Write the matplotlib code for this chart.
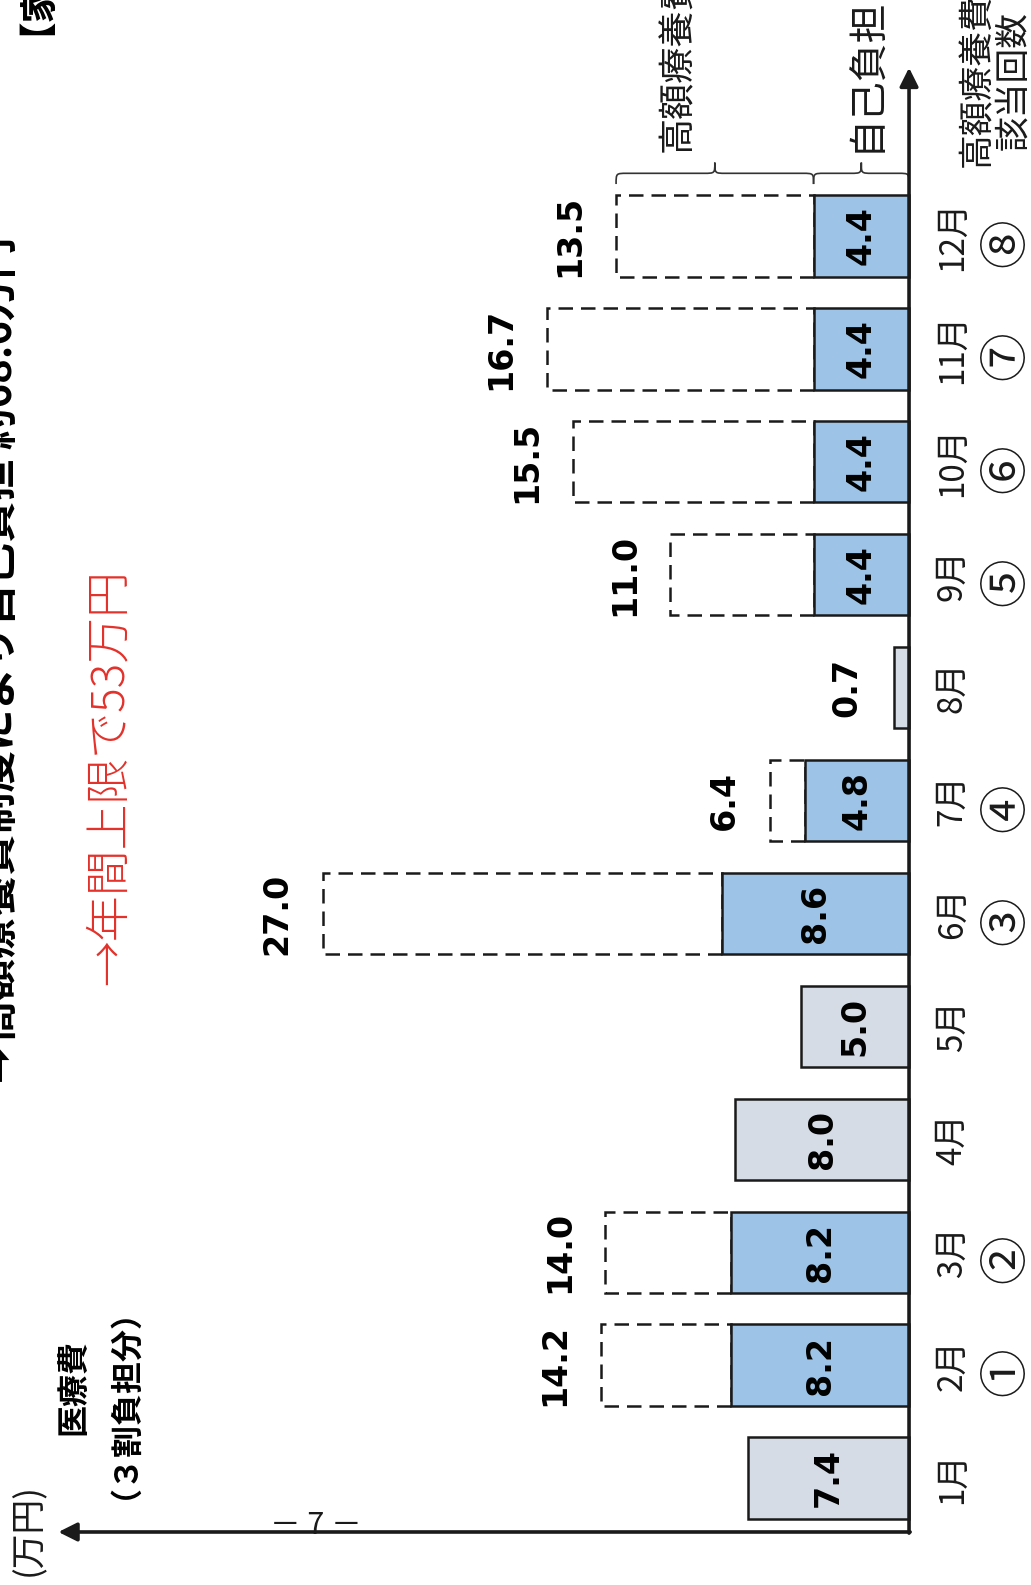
import matplotlib
matplotlib.use("Agg")
import matplotlib.pyplot as plt
from matplotlib.path import Path
from matplotlib.patches import PathPatch

plt.rcParams['font.family'] = ['Noto Sans CJK JP', 'DejaVu Sans']

# ---- data (万円) ----
months = list(range(1, 13))
month_labels = [f"{m}月" for m in months]
# self-pay part for months where the high-cost benefit applied
self_pay = [None, 8.2, 8.2, None, None, 8.6, 4.8, None, 4.4, 4.4, 4.4, 4.4]
# total medical cost (3-割 share) for each month
totals = [7.4, 14.2, 14.0, 8.0, 5.0, 27.0, 6.4, 0.7, 11.0, 15.5, 16.7, 13.5]
benefit_count = ["", "①", "②", "", "", "③", "④", "", "⑤", "⑥", "⑦", "⑧"]

W, H = 1031, 1585
fig = plt.figure(figsize=(W / 100, H / 100), dpi=100)
ax = fig.add_axes([0, 0, 1, 1])
ax.axis('off')
ax.set_xlim(41.89, -5.62)   # values grow to the left
ax.set_ylim(0.052, 14.09)


def px(x, y):
    return x / W, 1 - y / H


BLUE = '#9dc3e6'
GRAY = '#d6dce5'
INK = '#1a1a1a'
BAR_H = 0.72
LW = 1.8
dash = (0, (5.8, 3.2))

for m, sp, tot in zip(months, self_pay, totals):
    if sp is None:
        ax.barh(m, tot, height=BAR_H, color=GRAY, edgecolor=INK, linewidth=LW, zorder=2)
        if tot >= 2:
            ax.text(tot / 2, m, f"{tot:.1f}", rotation=90, ha='center', va='center',
                    fontsize=24, fontweight='bold', family='DejaVu Sans', zorder=4)
        else:
            ax.annotate(f"{tot:.1f}", (tot, m), xytext=(-34, 0), textcoords='offset points',
                        rotation=90, ha='center', va='center', fontsize=24,
                        fontweight='bold', family='DejaVu Sans')
    else:
        ax.barh(m, tot - sp, left=sp, height=BAR_H, fill=False, edgecolor=INK,
                linewidth=LW, linestyle=dash, zorder=2)
        ax.barh(m, sp, height=BAR_H, color=BLUE, edgecolor=INK, linewidth=LW, zorder=3)
        ax.text(sp / 2, m, f"{sp:.1f}", rotation=90, ha='center', va='center',
                fontsize=24, fontweight='bold', family='DejaVu Sans', zorder=4)
        ax.annotate(f"{tot:.1f}", (tot, m), xytext=(-33, 0), textcoords='offset points',
                    rotation=90, ha='center', va='center', fontsize=24,
                    fontweight='bold', family='DejaVu Sans')

# month labels and benefit counts beside the axis
for m, lab, cnt in zip(months, month_labels, benefit_count):
    ax.annotate(lab, (0, m), xytext=(31, 0), textcoords='offset points',
                rotation=90, ha='center', va='center', fontsize=24, color=INK)
    if cnt:
        ax.annotate(cnt, (0, m), xytext=(70, -5), textcoords='offset points',
                    rotation=90, ha='center', va='center', fontsize=35, color=INK)

# axes with arrows
y_base = 0.5215
ax.annotate('', xy=(0, 13.49), xytext=(0, y_base - 0.01),
            arrowprops=dict(arrowstyle='-|>', lw=2.6, color=INK,
                            mutation_scale=28, shrinkA=0, shrinkB=0), zorder=5)
ax.annotate('', xy=(39.2, y_base), xytext=(-0.05, y_base),
            arrowprops=dict(arrowstyle='-|>', lw=2.6, color=INK,
                            mutation_scale=28, shrinkA=0, shrinkB=0), zorder=5)


# curly braces above the December bar
def brace(x0, x1, yb, depth, r):
    xc = (x0 + x1) / 2
    ym = yb + depth * 0.5
    yt = yb + depth
    verts = [(x0, yb), (x0, ym), (x0, ym), (x0 + r, ym),
             (xc - r, ym), (xc, ym), (xc, ym), (xc, yt),
             (xc, ym), (xc, ym), (xc + r, ym),
             (x1 - r, ym), (x1, ym), (x1, ym), (x1, yb)]
    codes = [Path.MOVETO, Path.CURVE4, Path.CURVE4, Path.CURVE4,
             Path.LINETO, Path.CURVE4, Path.CURVE4, Path.CURVE4,
             Path.CURVE4, Path.CURVE4, Path.CURVE4,
             Path.LINETO, Path.CURVE4, Path.CURVE4, Path.CURVE4]
    ax.add_patch(PathPatch(Path(verts, codes), fill=False, lw=1.2, color='#333333'))


dec_self, dec_total = self_pay[-1], totals[-1]
brace(0.0, dec_self, 12.46, 0.19, 0.5)
brace(dec_self, dec_total, 12.46, 0.19, 0.5)

# annotations around the chart
fig.text(*px(678, 152), "高額療養費", rotation=90, ha='center', va='bottom',
         fontsize=26, color=INK)
fig.text(*px(866, 152), "自己負担", rotation=90, ha='center', va='bottom',
         fontsize=28, color=INK)
fig.text(*px(996, 167), "高額療養費\n該当回数", rotation=90, ha='center', va='bottom',
         multialignment='center', linespacing=1.05, fontsize=25, color=INK)
fig.text(*px(110, 985), "→年間上限で53万円", rotation=90, ha='center', va='bottom',
         fontsize=33, fontweight='light', color='#e3312a')
fig.text(*px(91, 1387), "医療費\n（３割負担分）", rotation=90, ha='center', va='center',
         multialignment='center', linespacing=1.15, fontsize=23, fontweight='bold')
fig.text(*px(29, 1529), "(万円)", rotation=90, ha='center', va='center',
         fontsize=25, color=INK)
fig.text(*px(316, 1526), "－ 7 －", ha='center', va='center', fontsize=22,
         color=INK)
fig.text(*px(0, 1083), "➡高額療養費制度により自己負担 約68.6万円", rotation=90,
         ha='center', va='bottom', fontsize=30, fontweight='bold')
fig.text(*px(17, 35), "【家", rotation=90, ha='center', va='bottom',
         fontsize=27, fontweight='bold')

fig.savefig('out.png', dpi=100)
